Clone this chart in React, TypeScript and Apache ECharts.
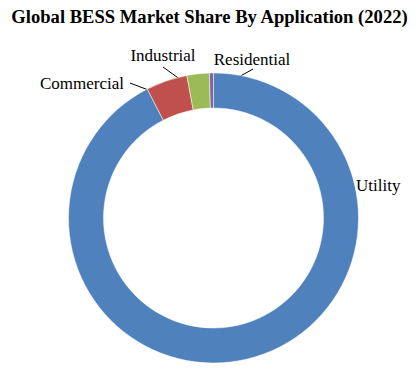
import React, { useEffect, useRef } from "react";
import * as echarts from "echarts";

const categories = ["Utility", "Commercial", "Industrial", "Residential"];
const shares = [92.5, 4.6, 2.5, 0.45];
const colors = ["#4F81BD", "#C0504D", "#9BBB59", "#8064A2"];

// label anchor and leader line points, per category
const labelSpots: Record<string, { x: number; y: number; align: string; line: number[][] | null }> = {
  Utility: { x: 356, y: 185, align: "left", line: null },
  Commercial: { x: 124, y: 83, align: "right", line: [[130, 83], [172, 99]] },
  Industrial: { x: 163, y: 55, align: "center", line: [[163, 67], [199, 93]] },
  Residential: { x: 252, y: 59, align: "center", line: [[253, 69], [212, 92]] },
};

export default function App() {
  const ref = useRef<HTMLDivElement>(null);
  useEffect(() => {
    if (!ref.current) return;
    const chart = echarts.init(ref.current, null, { renderer: "svg" });
    chart.setOption({
      animation: false,
      title: {
        text: "Global BESS Market Share By Application (2022)",
        left: "center",
        top: 2,
        textStyle: {
          fontFamily: "Liberation Serif",
          fontWeight: "bold",
          fontSize: 18.6,
          color: "#000",
        },
      },
      series: [
        {
          type: "pie",
          center: [213.5, 218],
          radius: [110, 145],
          startAngle: 90,
          clockwise: true,
          avoidLabelOverlap: false,
          itemStyle: { borderColor: "#ffffff", borderWidth: 0.5 },
          label: {
            show: true,
            position: "outside",
            formatter: "{b}",
            fontFamily: "Liberation Serif",
            fontSize: 17,
            color: "#000",
          },
          labelLine: { show: true, lineStyle: { color: "#000", width: 1 } },
          labelLayout: (params: any) => {
            const spot = labelSpots[categories[params.dataIndex]];
            const res: any = {
              x: spot.x,
              y: spot.y,
              align: spot.align,
              verticalAlign: "middle",
            };
            if (spot.line) res.labelLinePoints = spot.line;
            else res.labelLinePoints = [[0, 0], [0, 0]];
            return res;
          },
          data: categories.map((c, i) => ({
            name: c,
            value: shares[i],
            itemStyle: { color: colors[i] },
            labelLine: { show: !!labelSpots[c].line },
          })),
        },
      ],
    });
    return () => chart.dispose();
  }, []);
  return (
    <div
      ref={ref}
      style={{ position: "absolute", left: 0, top: 0, width: 419, height: 374 }}
    />
  );
}
